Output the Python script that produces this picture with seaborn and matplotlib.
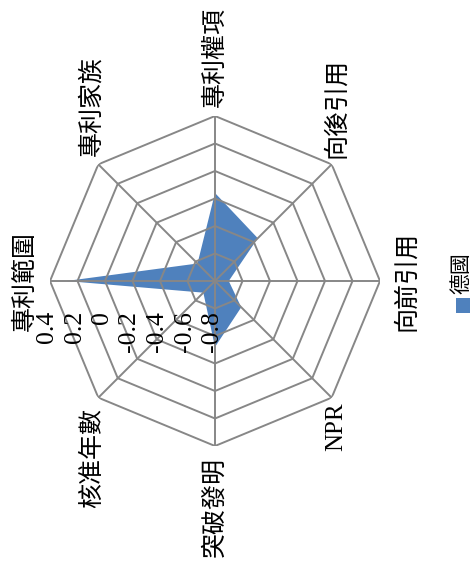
import numpy as np
import matplotlib
matplotlib.use("Agg")
import matplotlib.pyplot as plt
from matplotlib.patches import Rectangle
import seaborn as sns

# Radar profile of patent indicators (Germany)
categories = ['專利範圍', '專利家族', '專利權項', '向後引用',
              '向前引用', 'NPR', '突破發明', '核准年數']
germany = [0.28, -0.62, -0.16, -0.36, -0.70, -0.53, -0.32, -0.68]
ring_values = [-0.8, -0.6, -0.4, -0.2, 0.0, 0.2, 0.4]
ring_labels = ['-0.8', '-0.6', '-0.4', '-0.2', '0', '0.2', '0.4']
series_name = '德國'

sns.set_theme(style='white')
plt.rcParams['font.family'] = ['Liberation Serif', 'Noto Sans CJK TC', 'DejaVu Sans']

fill_color = '#4F81BD'
grid_color = '#878787'

W, H, DPI = 475, 567, 100
fig = plt.figure(figsize=(W / DPI, H / DPI), dpi=DPI)
fig.patch.set_facecolor('white')

# square polar area, centre at (215, 281) px, radius 165 px
cx, cy, rad = 215, 281, 165
ax = fig.add_axes([(cx - rad) / W, (H - cy - rad) / H, 2 * rad / W, 2 * rad / H],
                  projection='polar')
ax.set_theta_offset(np.pi)      # first category on the left
ax.set_theta_direction(-1)      # clockwise
ax.set_ylim(ring_values[0], ring_values[-1])
ax.axis('off')

n = len(categories)
angles = np.linspace(0, 2 * np.pi, n, endpoint=False)
closed = np.append(angles, angles[0])

# filled series
vals = np.append(germany, germany[0])
ax.fill(closed, vals, color=fill_color, lw=0, zorder=1)

# octagonal rings and spokes
for rv in ring_values[1:]:
    ax.plot(closed, [rv] * (n + 1), color=grid_color, lw=1.4, zorder=2)
for a in angles:
    ax.plot([a, a], [ring_values[0], ring_values[-1]], color=grid_color, lw=1.4, zorder=2)

# radial value labels along the first spoke
for rv, lab in zip(ring_values, ring_labels):
    ax.annotate(lab, xy=(0, rv), xytext=(-3, -30), textcoords='offset pixels',
                rotation=90, ha='center', va='top', fontsize=18.5,
                color='black', annotation_clip=False, zorder=3)

# category labels (offset in pixels, alignment)
placement = [((-13, 0), 'right', 'center'),
             ((-7, 8), 'center', 'bottom'),
             ((0, 9), 'center', 'bottom'),
             ((5, 6), 'center', 'bottom'),
             ((15, 0), 'left', 'center'),
             ((5, -5), 'center', 'top'),
             ((0, -11), 'center', 'top'),
             ((-6, -10), 'center', 'top')]
for a, lab, (off, ha, va) in zip(angles, categories, placement):
    ax.annotate(lab, xy=(a, ring_values[-1]), xytext=off, textcoords='offset pixels',
                rotation=90, ha=ha, va=va, fontsize=18, color='black',
                annotation_clip=False)

# legend (rotated)
fig.add_artist(Rectangle((456 / W, 1 - 313 / H), 14 / W, 15 / H,
                         transform=fig.transFigure, facecolor=fill_color,
                         edgecolor='none'))
fig.text(463 / W, 1 - 294 / H, series_name, rotation=90, ha='center', va='bottom',
         fontsize=15, color='black')

fig.savefig('out.png', dpi=DPI, facecolor='white')
